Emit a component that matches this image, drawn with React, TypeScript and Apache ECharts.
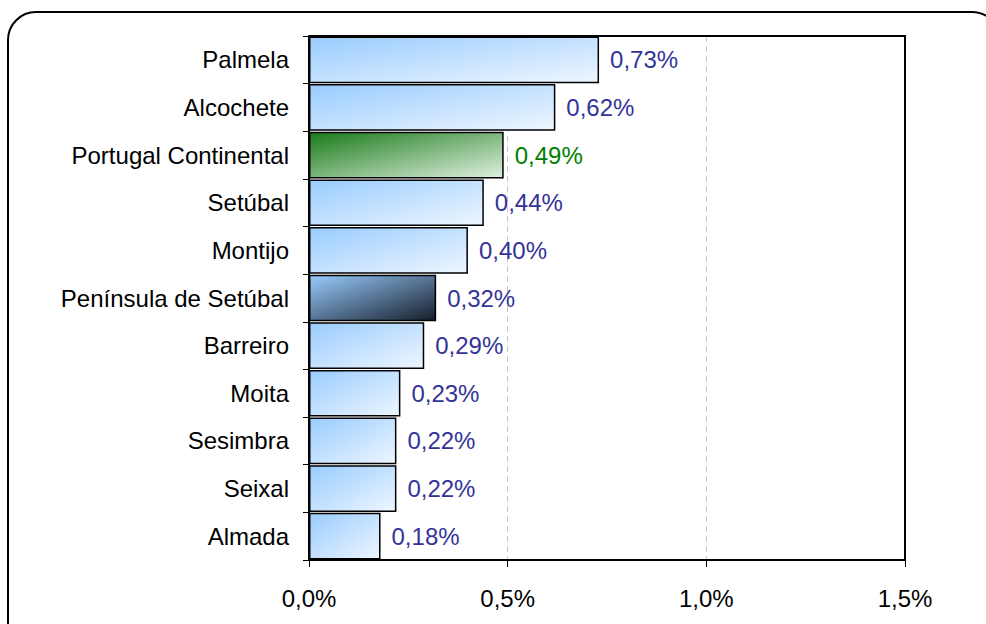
import React, { useEffect, useRef } from "react";
import * as echarts from "echarts";

const categories = [
  "Palmela",
  "Alcochete",
  "Portugal Continental",
  "Setúbal",
  "Montijo",
  "Península de Setúbal",
  "Barreiro",
  "Moita",
  "Sesimbra",
  "Seixal",
  "Almada",
];
const values = [0.73, 0.62, 0.49, 0.44, 0.4, 0.32, 0.29, 0.23, 0.22, 0.22, 0.18];
const kinds = ["mun", "mun", "country", "mun", "mun", "region", "mun", "mun", "mun", "mun", "mun"];
const xTicks = [0, 0.5, 1.0, 1.5];

const grad = (a: string, b: string) =>
  new echarts.graphic.LinearGradient(0, 0, 1, 1, [
    { offset: 0, color: a },
    { offset: 1, color: b },
  ]);

export default function App() {
  const ref = useRef<HTMLDivElement>(null);
  useEffect(() => {
    if (!ref.current) return;
    const chart = echarts.init(ref.current, undefined, { renderer: "svg" });
    const font = "Liberation Sans, Arial, sans-serif";
    const fs = 24;
    const data = values.map((v, i) => {
      const k = kinds[i];
      let color: any = grad("#99ccff", "#eef6ff");
      let labelColor = "#333399";
      if (k === "country") {
        color = grad("#1a7a1a", "#dff0df");
        labelColor = "#008000";
      } else if (k === "region") {
        color = grad("#99ccff", "#151e2a");
      }
      return {
        value: v,
        itemStyle: { color, borderColor: "#000", borderWidth: 1.5 },
        label: { color: labelColor },
      };
    });
    chart.setOption({
      animation: false,
      backgroundColor: "#fff",
      graphic: [
        {
          type: "rect",
          shape: { x: 8, y: 12, width: 992, height: 640, r: 28 },
          style: { fill: "none", stroke: "#000", lineWidth: 2 },
          z: 100,
        },
        {
          type: "polyline",
          shape: { points: [[309, 36], [905, 36], [905, 560]] },
          style: { fill: "none", stroke: "#000", lineWidth: 2 },
          z: 100,
        },
      ],
      grid: { left: 309, right: 81, top: 36, bottom: 64, show: false },
      xAxis: {
        type: "value",
        min: 0,
        max: 1.5,
        interval: 0.5,
        axisLine: { show: true, lineStyle: { color: "#000", width: 2 } },
        axisTick: { show: true, length: 7, lineStyle: { color: "#000" } },
        axisLabel: {
          color: "#000",
          fontFamily: font,
          fontSize: fs,
          margin: 26,
          formatter: (v: number) => (xTicks.includes(v) ? v.toFixed(1).replace(".", ",") + "%" : ""),
        },
        splitLine: { show: true, showMaxLine: false, lineStyle: { color: "#c8c8c8", type: [6, 4], width: 1 } },
      },
      yAxis: {
        type: "category",
        data: categories,
        inverse: true,
        axisLine: { show: true, lineStyle: { color: "#000", width: 2 } },
        axisTick: { show: true, length: 6, lineStyle: { color: "#000" } },
        axisLabel: { color: "#000", fontFamily: font, fontSize: fs, margin: 20 },
      },
      series: [
        {
          type: "bar",
          data,
          barCategoryGap: "2%",
          label: {
            show: true,
            position: "right",
            distance: 11,
            fontFamily: font,
            fontSize: fs,
            formatter: (p: any) => p.value.toFixed(2).replace(".", ",") + "%",
          },
        },
      ],
    });
    return () => chart.dispose();
  }, []);
  return <div ref={ref} style={{ position: "fixed", left: 0, top: 0, width: 986, height: 624 }} />;
}
